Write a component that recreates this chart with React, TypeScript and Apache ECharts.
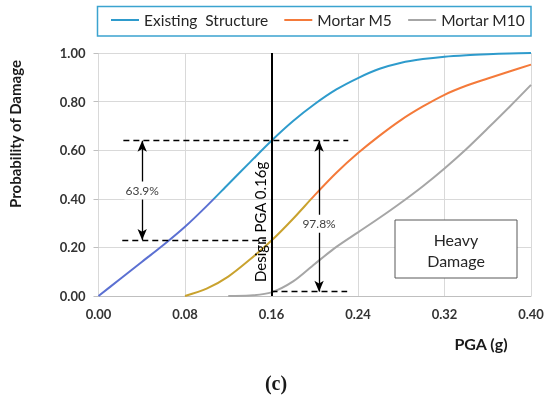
import React, { useEffect, useRef } from "react";
import * as echarts from "echarts";

// ---- Data ----
const PGA_EXISTING = [0, 0.02, 0.04, 0.06, 0.08, 0.1, 0.12, 0.14, 0.16, 0.18, 0.2, 0.22, 0.24, 0.26, 0.28, 0.3, 0.32, 0.34, 0.36, 0.38, 0.4];
const P_EXISTING = [0, 0.07, 0.14, 0.21, 0.285, 0.37, 0.46, 0.55, 0.639, 0.72, 0.79, 0.85, 0.897, 0.935, 0.96, 0.975, 0.985, 0.991, 0.995, 0.998, 1.0];

const PGA_M5 = [0.08, 0.1, 0.12, 0.14, 0.16, 0.18, 0.2, 0.22, 0.24, 0.26, 0.28, 0.3, 0.32, 0.34, 0.36, 0.38, 0.4];
const P_M5 = [0, 0.03, 0.08, 0.15, 0.228, 0.318, 0.415, 0.507, 0.588, 0.66, 0.725, 0.78, 0.828, 0.865, 0.895, 0.924, 0.952];

const PGA_M10 = [0.12, 0.14, 0.16, 0.18, 0.2, 0.22, 0.24, 0.26, 0.28, 0.3, 0.32, 0.34, 0.36, 0.38, 0.4];
const P_M10 = [0, 0.002, 0.015, 0.06, 0.132, 0.202, 0.262, 0.322, 0.385, 0.452, 0.525, 0.604, 0.69, 0.778, 0.869];

const SERIES_NAMES = ["Existing  Structure", "Mortar M5", "Mortar M10"];

// Annotation values
const DESIGN_PGA = 0.16;
const P_AT_DESIGN_EXISTING = 0.639;
const P_AT_DESIGN_M5 = 0.23;
const P_AT_DESIGN_M10 = 0.018;
const REDUCTION_LABELS = ["63.9%", "97.8%"];
const COLOR_SWITCH_P = 0.4;

const X_TICKS = { min: 0, max: 0.4, interval: 0.08 };
const Y_TICKS = { min: 0, max: 1, interval: 0.2 };

const FONT = "Lato";

function pairs(xs: number[], ys: number[]) {
  return xs.map((x, i) => [x, ys[i]]);
}

function splitGradient(ys: number[], hi: string, lo: string) {
  const max = Math.max(...ys);
  const min = Math.min(...ys);
  const s = Math.min(1, Math.max(0, (max - COLOR_SWITCH_P) / (max - min)));
  return new echarts.graphic.LinearGradient(0, 0, 0, 1, [
    { offset: 0, color: hi },
    { offset: s, color: hi },
    { offset: s, color: lo },
    { offset: 1, color: lo },
  ]);
}

export default function App() {
  const ref = useRef<HTMLDivElement>(null);

  useEffect(() => {
    document.body.style.margin = "0";
    const chart = echarts.init(ref.current!, null, { renderer: "svg" });

    const blue = "#2E9BCC";
    const orange = "#F47A3A";
    const gray = "#A6A6A6";

    const dashed = { color: "#000", width: 1.3, type: [6, 4] as any };
    const arrowStyle = { color: "#000", width: 1.3, type: "solid" as any };

    const option: any = {
      animation: false,
      grid: { left: 98.5, right: 19, top: 53, bottom: 101 },
      legend: {
        left: 111,
        top: 12,
        padding: 0,
        icon: "rect",
        itemWidth: 28,
        itemHeight: 2,
        itemGap: 16,
        textStyle: { fontFamily: FONT, fontSize: 15.5, color: "#262626" },
        data: [
          { name: SERIES_NAMES[0], itemStyle: { color: blue } },
          { name: SERIES_NAMES[1], itemStyle: { color: orange } },
          { name: SERIES_NAMES[2], itemStyle: { color: gray } },
        ],
      },
      xAxis: {
        type: "value",
        ...X_TICKS,
        axisLine: { show: true, lineStyle: { color: "#BFBFBF" } },
        axisTick: { show: false },
        splitLine: { show: true, lineStyle: { color: "#D9D9D9", width: 1 } },
        axisLabel: {
          margin: 11,
          formatter: (v: number) => v.toFixed(2),
          fontFamily: FONT,
          fontWeight: "bold",
          fontSize: 13,
          color: "#333",
        },
      },
      yAxis: {
        type: "value",
        ...Y_TICKS,
        axisLine: { show: false },
        axisTick: { show: true, length: 5, lineStyle: { color: "#BFBFBF" } },
        splitLine: { show: true, lineStyle: { color: "#D9D9D9", width: 1 } },
        axisLabel: {
          margin: 13,
          formatter: (v: number) => v.toFixed(2),
          fontFamily: FONT,
          fontWeight: "bold",
          fontSize: 13,
          color: "#333",
        },
      },
      series: [
        {
          name: SERIES_NAMES[0],
          type: "line",
          data: pairs(PGA_EXISTING, P_EXISTING),
          smooth: 0.3,
          symbol: "none",
          z: 3,
          lineStyle: { width: 2, color: splitGradient(P_EXISTING, blue, "#5B70D2") },
          itemStyle: { color: blue },
          markLine: {
            silent: true,
            symbol: ["none", "none"],
            label: { show: false },
            z: 5,
            data: [
              [
                { coord: [DESIGN_PGA, Y_TICKS.min], lineStyle: { color: "#000", width: 2, type: "solid" } },
                { coord: [DESIGN_PGA, Y_TICKS.max] },
              ],
              [
                { coord: [0.023, P_AT_DESIGN_EXISTING], lineStyle: dashed },
                { coord: [0.231, P_AT_DESIGN_EXISTING] },
              ],
              [
                { coord: [0.022, P_AT_DESIGN_M5], lineStyle: dashed },
                { coord: [0.155, P_AT_DESIGN_M5] },
              ],
              [
                { coord: [DESIGN_PGA, P_AT_DESIGN_M10], lineStyle: dashed },
                { coord: [0.23, P_AT_DESIGN_M10] },
              ],
              [
                { coord: [0.0404, P_AT_DESIGN_EXISTING], symbol: "arrow", symbolSize: [7, 11], lineStyle: arrowStyle },
                { coord: [0.0404, P_AT_DESIGN_M5], symbol: "arrow", symbolSize: [7, 11] },
              ],
              [
                { coord: [0.204, P_AT_DESIGN_EXISTING], symbol: "arrow", symbolSize: [7, 11], lineStyle: arrowStyle },
                { coord: [0.204, P_AT_DESIGN_M10], symbol: "arrow", symbolSize: [7, 11] },
              ],
            ],
          },
        },
        {
          name: SERIES_NAMES[1],
          type: "line",
          data: pairs(PGA_M5, P_M5),
          smooth: 0.3,
          symbol: "none",
          z: 3,
          lineStyle: { width: 2, color: splitGradient(P_M5, orange, "#C9A22E") },
          itemStyle: { color: orange },
        },
        {
          name: SERIES_NAMES[2],
          type: "line",
          data: pairs(PGA_M10, P_M10),
          smooth: 0.3,
          symbol: "none",
          z: 3,
          lineStyle: { width: 2, color: gray },
          itemStyle: { color: gray },
        },
      ],
    };

    chart.setOption(option);

    const px = (x: number, y: number) => chart.convertToPixel({ gridIndex: 0 }, [x, y]) as number[];
    const g = chart.getModel().getComponent("grid", 0) as any;
    const rect = g.coordinateSystem.getRect();

    const lbl1 = px(0.0404, (P_AT_DESIGN_EXISTING + P_AT_DESIGN_M5) / 2);
    const lbl2 = px(0.204, 0.297);
    const design = px(DESIGN_PGA, 0.305);

    chart.setOption({
      graphic: [
        {
          type: "rect",
          shape: { x: rect.x - 1, y: 6.5, width: rect.width + 1, height: 29.5 },
          style: { fill: "none", stroke: "#3BA3CF", lineWidth: 1.5 },
          z: 10,
        },
        {
          type: "text",
          x: lbl1[0],
          y: lbl1[1],
          z: 20,
          style: {
            text: REDUCTION_LABELS[0],
            fontFamily: FONT,
            fontSize: 12,
            fill: "#404040",
            align: "center",
            verticalAlign: "middle",
            backgroundColor: "#fff",
            padding: [3, 1],
          },
        },
        {
          type: "text",
          x: lbl2[0],
          y: lbl2[1],
          z: 20,
          style: {
            text: REDUCTION_LABELS[1],
            fontFamily: FONT,
            fontSize: 12,
            fill: "#404040",
            align: "center",
            verticalAlign: "middle",
            backgroundColor: "#fff",
            padding: [3, 1],
          },
        },
        {
          type: "text",
          x: design[0] - 12,
          y: design[1],
          rotation: Math.PI / 2,
          z: 20,
          style: {
            text: "Design PGA 0.16g",
            fontFamily: FONT,
            fontSize: 15,
            fill: "#000",
            align: "center",
            verticalAlign: "middle",
          },
        },
        {
          type: "rect",
          shape: { x: 395, y: 220, width: 122, height: 58 },
          style: { fill: "#fff", stroke: "#595959", lineWidth: 1 },
          z: 15,
        },
        {
          type: "text",
          x: 456,
          y: 239.5,
          z: 16,
          style: { text: "Heavy", fontFamily: FONT, fontSize: 16, fill: "#262626", align: "center", verticalAlign: "middle" },
        },
        {
          type: "text",
          x: 456,
          y: 260.5,
          z: 16,
          style: { text: "Damage", fontFamily: FONT, fontSize: 16, fill: "#262626", align: "center", verticalAlign: "middle" },
        },
        {
          type: "text",
          x: 15,
          y: 134,
          rotation: Math.PI / 2,
          style: {
            text: "Probability of Damage",
            fontFamily: FONT,
            fontSize: 15,
            fontWeight: "bold",
            fill: "#1a1a1a",
            align: "center",
            verticalAlign: "middle",
          },
        },
        {
          type: "text",
          x: 481,
          y: 343,
          style: {
            text: "PGA (g)",
            fontFamily: FONT,
            fontSize: 16,
            fontWeight: "bold",
            fill: "#1a1a1a",
            align: "center",
            verticalAlign: "middle",
          },
        },
        {
          type: "text",
          x: 276,
          y: 383,
          style: {
            text: "(c)",
            fontFamily: "Liberation Serif",
            fontSize: 20,
            fontWeight: "bold",
            fill: "#1a1a1a",
            align: "center",
            verticalAlign: "middle",
          },
        },
      ],
    });

    return () => chart.dispose();
  }, []);

  return <div ref={ref} style={{ position: "fixed", left: 0, top: 0, width: 550, height: 397 }} />;
}
